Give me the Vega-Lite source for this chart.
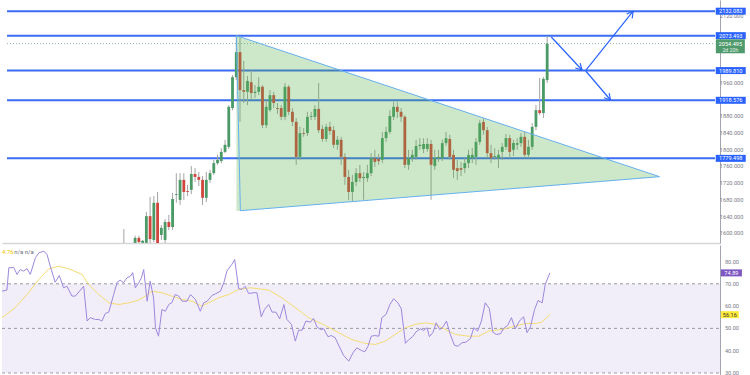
{
"$schema": "https://vega.github.io/schema/vega-lite/v6.json",
"padding": 0,
"background": "white",
"spacing": 2,
"config": {"view": {"stroke": null}, "font": "Roboto",
  "axis": {"grid": false, "ticks": false, "labels": false, "domainColor": "#a3a6af"},
  "axisX": {"domainWidth": 1.5, "domainColor": "#d6d6d9"}},
"datasets": {
 "candles": [
  {"i":30,"o":1560,"h":1610,"l":1548,"c":1572},{"i":31,"o":1555,"h":1574,"l":1546,"c":1565},{"i":32,"o":1565,"h":1572,"l":1548,"c":1558},
  {"i":33,"o":1577,"h":1594,"l":1570,"c":1589},{"i":34,"o":1589,"h":1594,"l":1574,"c":1579},{"i":35,"o":1577,"h":1584,"l":1572,"c":1582},
  {"i":36,"o":1577,"h":1651,"l":1572,"c":1641},{"i":37,"o":1641,"h":1687,"l":1577,"c":1586},{"i":38,"o":1584,"h":1689,"l":1579,"c":1673},
  {"i":39,"o":1673,"h":1699,"l":1565,"c":1572},{"i":40,"o":1596,"h":1620,"l":1584,"c":1613},{"i":41,"o":1584,"h":1634,"l":1570,"c":1627},
  {"i":42,"o":1627,"h":1644,"l":1608,"c":1615},{"i":43,"o":1615,"h":1697,"l":1608,"c":1682},{"i":44,"o":1692,"h":1744,"l":1673,"c":1694},
  {"i":45,"o":1680,"h":1744,"l":1668,"c":1728},{"i":46,"o":1728,"h":1744,"l":1680,"c":1699},{"i":47,"o":1701,"h":1716,"l":1689,"c":1699},
  {"i":48,"o":1704,"h":1761,"l":1694,"c":1742},{"i":49,"o":1742,"h":1756,"l":1723,"c":1735},{"i":50,"o":1735,"h":1747,"l":1713,"c":1728},
  {"i":51,"o":1728,"h":1737,"l":1668,"c":1685},{"i":52,"o":1685,"h":1747,"l":1675,"c":1728},{"i":53,"o":1728,"h":1752,"l":1721,"c":1744},
  {"i":54,"o":1744,"h":1776,"l":1740,"c":1768},{"i":55,"o":1768,"h":1788,"l":1764,"c":1776},{"i":56,"o":1773,"h":1804,"l":1768,"c":1795},
  {"i":57,"o":1795,"h":1824,"l":1792,"c":1812},{"i":58,"o":1807,"h":1907,"l":1802,"c":1903},{"i":59,"o":1900,"h":1979,"l":1895,"c":1974},
  {"i":60,"o":1974,"h":2073.5,"l":1967,"c":2034},{"i":61,"o":2034,"h":2070,"l":1867,"c":1943},{"i":62,"o":1943,"h":2013,"l":1912,"c":1939},
  {"i":63,"o":1939,"h":1977,"l":1907,"c":1965},{"i":64,"o":1962,"h":1991,"l":1919,"c":1936},{"i":65,"o":1936,"h":1955,"l":1924,"c":1939},
  {"i":66,"o":1939,"h":1974,"l":1931,"c":1951},{"i":67,"o":1951,"h":1955,"l":1852,"c":1859},{"i":68,"o":1859,"h":1919,"l":1852,"c":1903},
  {"i":69,"o":1895,"h":1943,"l":1891,"c":1931},{"i":70,"o":1931,"h":1939,"l":1900,"c":1912},{"i":71,"o":1900,"h":1912,"l":1886,"c":1898},
  {"i":72,"o":1900,"h":1907,"l":1871,"c":1879},{"i":73,"o":1879,"h":1960,"l":1871,"c":1951},{"i":74,"o":1951,"h":1955,"l":1883,"c":1891},
  {"i":75,"o":1891,"h":1900,"l":1857,"c":1867},{"i":76,"o":1867,"h":1876,"l":1764,"c":1783},{"i":77,"o":1783,"h":1855,"l":1776,"c":1840},
  {"i":78,"o":1840,"h":1852,"l":1831,"c":1838},{"i":79,"o":1840,"h":1891,"l":1833,"c":1879},{"i":80,"o":1879,"h":1891,"l":1871,"c":1881},
  {"i":81,"o":1879,"h":1907,"l":1871,"c":1898},{"i":82,"o":1898,"h":1960,"l":1840,"c":1847},{"i":83,"o":1850,"h":1859,"l":1819,"c":1826},
  {"i":84,"o":1826,"h":1862,"l":1819,"c":1855},{"i":85,"o":1855,"h":1867,"l":1836,"c":1845},{"i":86,"o":1847,"h":1857,"l":1804,"c":1812},
  {"i":87,"o":1812,"h":1833,"l":1800,"c":1824},{"i":88,"o":1824,"h":1831,"l":1764,"c":1783},{"i":89,"o":1783,"h":1792,"l":1716,"c":1735},
  {"i":90,"o":1735,"h":1752,"l":1680,"c":1699},{"i":91,"o":1699,"h":1740,"l":1677,"c":1723},{"i":92,"o":1723,"h":1756,"l":1713,"c":1744},
  {"i":93,"o":1744,"h":1764,"l":1723,"c":1732},{"i":94,"o":1732,"h":1747,"l":1680,"c":1735},{"i":95,"o":1732,"h":1764,"l":1723,"c":1744},
  {"i":96,"o":1744,"h":1792,"l":1737,"c":1780},{"i":97,"o":1780,"h":1800,"l":1759,"c":1771},{"i":98,"o":1778,"h":1790,"l":1764,"c":1773},
  {"i":99,"o":1776,"h":1843,"l":1768,"c":1828},{"i":100,"o":1828,"h":1855,"l":1819,"c":1843},{"i":101,"o":1843,"h":1895,"l":1838,"c":1881},
  {"i":102,"o":1879,"h":1915,"l":1871,"c":1903},{"i":103,"o":1903,"h":1915,"l":1876,"c":1891},{"i":104,"o":1891,"h":1900,"l":1867,"c":1879},
  {"i":105,"o":1879,"h":1883,"l":1756,"c":1764},{"i":106,"o":1764,"h":1800,"l":1752,"c":1780},{"i":107,"o":1780,"h":1800,"l":1771,"c":1788},
  {"i":108,"o":1783,"h":1824,"l":1776,"c":1809},{"i":109,"o":1809,"h":1828,"l":1800,"c":1812},{"i":110,"o":1802,"h":1828,"l":1792,"c":1814},
  {"i":111,"o":1802,"h":1828,"l":1795,"c":1814},{"i":112,"o":1814,"h":1824,"l":1680,"c":1764},{"i":113,"o":1761,"h":1800,"l":1752,"c":1780},
  {"i":114,"o":1780,"h":1800,"l":1771,"c":1783},{"i":115,"o":1780,"h":1824,"l":1773,"c":1816},{"i":116,"o":1816,"h":1843,"l":1809,"c":1828},
  {"i":117,"o":1826,"h":1836,"l":1776,"c":1783},{"i":118,"o":1788,"h":1800,"l":1732,"c":1752},{"i":119,"o":1756,"h":1776,"l":1728,"c":1749},
  {"i":120,"o":1756,"h":1771,"l":1737,"c":1752},{"i":121,"o":1756,"h":1780,"l":1744,"c":1768},{"i":122,"o":1768,"h":1800,"l":1756,"c":1788},
  {"i":123,"o":1780,"h":1804,"l":1768,"c":1788},{"i":124,"o":1783,"h":1828,"l":1764,"c":1819},{"i":125,"o":1819,"h":1871,"l":1812,"c":1864},
  {"i":126,"o":1867,"h":1874,"l":1836,"c":1847},{"i":127,"o":1847,"h":1855,"l":1780,"c":1792},{"i":128,"o":1792,"h":1812,"l":1768,"c":1780},
  {"i":129,"o":1783,"h":1804,"l":1776,"c":1785},{"i":130,"o":1780,"h":1800,"l":1756,"c":1788},{"i":131,"o":1795,"h":1816,"l":1776,"c":1807},
  {"i":132,"o":1807,"h":1838,"l":1800,"c":1828},{"i":133,"o":1828,"h":1836,"l":1780,"c":1795},{"i":134,"o":1800,"h":1824,"l":1785,"c":1816},
  {"i":135,"o":1812,"h":1828,"l":1800,"c":1816},{"i":136,"o":1816,"h":1840,"l":1807,"c":1831},{"i":137,"o":1831,"h":1843,"l":1780,"c":1788},
  {"i":138,"o":1788,"h":1824,"l":1780,"c":1807},{"i":139,"o":1807,"h":1864,"l":1800,"c":1855},{"i":140,"o":1855,"h":1907,"l":1847,"c":1895},
  {"i":141,"o":1895,"h":1972,"l":1883,"c":1888},{"i":142,"o":1888,"h":1974,"l":1876,"c":1970},{"i":143,"o":1967,"h":2072,"l":1960,"c":2054.495}
 ],
 "levels": [{"p":2132.083},{"p":2073.493},{"p":1989.81},{"p":1918.576},{"p":1779.498}],
 "priceTicks": [{"p":1600},{"p":1640},{"p":1680},{"p":1720},{"p":1760},{"p":1800},{"p":1840},{"p":1880},{"p":1960},{"p":2120}],
 "rsiTicks": [{"v":30},{"v":40},{"v":50},{"v":60},{"v":70},{"v":80}],
 "current": [{"p":2054.495,"t":"2d 20h"}],
 "tri": [{"i":60.05,"top":2073.5,"bot":1653.3},{"i":173,"top":1735.6,"bot":1735.6}],
 "triEdge": [{"k":0,"i":60.05,"p":2073.5},{"k":1,"i":61.1,"p":1654.1},{"k":2,"i":173,"p":1735.6},{"k":3,"i":60.05,"p":2073.5}],
 "arrows": [
  {"a":144.1,"b":2070.3,"a2":152.3,"b2":1991.2},{"a":152.3,"b":1991.2,"a2":151.8,"b2":2007.5},{"a":152.3,"b":1991.2,"a2":150.5,"b2":1996.0},
  {"a":153.3,"b":1990.0,"a2":165.95,"b2":2132.0},{"a":165.95,"b":2132.0,"a2":164.2,"b2":2125.4},{"a":165.95,"b":2132.0,"a2":165.7,"b2":2114.8},
  {"a":153.3,"b":1988.8,"a2":159.9,"b2":1919.3},{"a":159.9,"b":1919.3,"a2":159.55,"b2":1935.9},{"a":159.9,"b":1919.3,"a2":158.2,"b2":1924.8}
 ],
 "rsi": [
  {"i":-1.2,"r":66.7},{"i":0.1,"r":67.2},{"i":0.6,"r":77.2},{"i":1.9,"r":77.3},{"i":2.75,"r":74.2},{"i":3.6,"r":76.4},{"i":4.5,"r":75.7},{"i":5.4,"r":76.8},{"i":6.25,"r":74.2},{"i":7.6,"r":81.7},{"i":8.5,"r":83.9},{"i":9.8,"r":84.6},{"i":10.65,"r":83.2},{"i":11.5,"r":77.9},{"i":12.8,"r":70.7},{"i":13.9,"r":73.7},{"i":15.0,"r":68.2},{"i":15.9,"r":68.9},{"i":17.2,"r":64.5},{"i":18.1,"r":64.5},{"i":20.3,"r":68.9},{"i":21.2,"r":53.3},{"i":22.0,"r":54.8},{"i":23.4,"r":54.0},{"i":24.3,"r":54.0},{"i":25.1,"r":53.3},{"i":26.0,"r":56.7},{"i":26.9,"r":57.3},{"i":28.2,"r":65.2},{"i":29.1,"r":70.7},{"i":29.9,"r":71.6},{"i":30.8,"r":70.5},{"i":31.7,"r":72.7},{"i":32.6,"r":73.4},{"i":33.2,"r":75.0},{"i":33.9,"r":68.2},{"i":34.8,"r":70.5},{"i":35.5,"r":72.7},{"i":36.1,"r":76.4},{"i":37.0,"r":62.2},{"i":37.8,"r":71.2},{"i":38.7,"r":63.7},{"i":39.2,"r":50.3},{"i":40.0,"r":46.5},{"i":40.9,"r":58.5},{"i":41.8,"r":57.7},{"i":42.7,"r":60.7},{"i":43.5,"r":61.5},{"i":44.4,"r":65.2},{"i":45.3,"r":64.5},{"i":46.2,"r":62.2},{"i":47.5,"r":62.2},{"i":48.4,"r":65.2},{"i":49.7,"r":63.0},{"i":51.0,"r":57.7},{"i":51.9,"r":61.5},{"i":52.8,"r":62.2},{"i":54.1,"r":64.8},{"i":55.0,"r":65.5},{"i":56.3,"r":66.7},{"i":57.2,"r":70.5},{"i":58.0,"r":75.7},{"i":59.3,"r":78.7},{"i":60.05,"r":80.9},{"i":61.1,"r":67.8},{"i":62.0,"r":67.5},{"i":62.8,"r":68.9},{"i":63.7,"r":65.7},{"i":65.1,"r":66.0},{"i":65.9,"r":66.0},{"i":67.05,"r":55.2},{"i":67.9,"r":58.5},{"i":69.0,"r":60.7},{"i":69.9,"r":57.3},{"i":70.9,"r":57.3},{"i":71.9,"r":54.3},{"i":73.0,"r":60.7},{"i":73.8,"r":54.0},{"i":75.0,"r":51.8},{"i":76.0,"r":44.3},{"i":76.9,"r":49.2},{"i":77.8,"r":49.2},{"i":78.8,"r":53.3},{"i":80.0,"r":52.8},{"i":80.8,"r":54.5},{"i":81.7,"r":50.7},{"i":82.6,"r":49.5},{"i":83.5,"r":49.8},{"i":84.6,"r":46.3},{"i":85.5,"r":46.8},{"i":86.5,"r":45.8},{"i":87.4,"r":42.5},{"i":88.7,"r":37.9},{"i":90.1,"r":35.3},{"i":91.2,"r":39.1},{"i":92.2,"r":41.3},{"i":93.4,"r":40.1},{"i":94.3,"r":39.5},{"i":95.1,"r":41.8},{"i":96.0,"r":46.5},{"i":96.9,"r":46.8},{"i":98.0,"r":46.5},{"i":98.8,"r":54.8},{"i":99.9,"r":56.3},{"i":100.9,"r":60.7},{"i":101.9,"r":63.3},{"i":103.0,"r":61.5},{"i":103.9,"r":58.8},{"i":105.0,"r":43.3},{"i":105.9,"r":45.0},{"i":106.9,"r":46.3},{"i":107.8,"r":48.5},{"i":108.9,"r":49.8},{"i":109.8,"r":49.1},{"i":110.7,"r":50.3},{"i":111.3,"r":46.3},{"i":112.2,"r":48.1},{"i":113.1,"r":52.5},{"i":114.0,"r":49.5},{"i":114.9,"r":50.7},{"i":115.8,"r":53.3},{"i":116.8,"r":47.3},{"i":117.9,"r":42.4},{"i":118.8,"r":42.0},{"i":119.9,"r":43.6},{"i":120.9,"r":43.8},{"i":122.1,"r":45.4},{"i":123.0,"r":50.3},{"i":124.0,"r":48.8},{"i":125.0,"r":53.3},{"i":126.0,"r":61.5},{"i":127.1,"r":58.8},{"i":128.0,"r":48.3},{"i":128.9,"r":47.3},{"i":130.0,"r":47.6},{"i":131.0,"r":50.3},{"i":131.9,"r":51.3},{"i":132.9,"r":54.8},{"i":133.9,"r":49.8},{"i":135.0,"r":53.3},{"i":136.1,"r":55.2},{"i":137.0,"r":48.1},{"i":137.9,"r":50.7},{"i":139.0,"r":58.5},{"i":139.9,"r":62.5},{"i":141.0,"r":61.5},{"i":141.8,"r":69.7},{"i":143.0,"r":74.89}
 ],
 "ma": [
  {"i":-1.2,"m":54.8},{"i":2.3,"m":59.3},{"i":5.8,"m":66.0},{"i":8.5,"m":71.9},{"i":11.1,"m":76.7},{"i":13.7,"m":77.9},{"i":16.4,"m":76.7},{"i":19.9,"m":74.2},{"i":21.6,"m":69.7},{"i":24.3,"m":65.2},{"i":26.9,"m":61.5},{"i":29.5,"m":60.7},{"i":32.2,"m":61.5},{"i":34.8,"m":62.7},{"i":36.5,"m":64.5},{"i":38.3,"m":66.7},{"i":40.9,"m":66.0},{"i":43.5,"m":64.5},{"i":46.2,"m":63.0},{"i":48.8,"m":62.2},{"i":51.4,"m":60.0},{"i":53.2,"m":61.5},{"i":55.8,"m":63.7},{"i":58.5,"m":65.2},{"i":61.1,"m":67.5},{"i":64.2,"m":68.2},{"i":69.0,"m":67.2},{"i":72.5,"m":63.7},{"i":76.0,"m":59.3},{"i":79.5,"m":54.8},{"i":83.9,"m":51.3},{"i":87.4,"m":48.1},{"i":90.9,"m":45.0},{"i":94.4,"m":43.3},{"i":97.1,"m":42.8},{"i":99.7,"m":44.3},{"i":102.3,"m":47.3},{"i":105.0,"m":50.3},{"i":107.6,"m":51.8},{"i":110.2,"m":52.5},{"i":112.9,"m":51.8},{"i":115.5,"m":49.5},{"i":118.1,"m":47.3},{"i":121.6,"m":46.5},{"i":124.3,"m":46.5},{"i":126.9,"m":48.8},{"i":130.4,"m":49.5},{"i":133.9,"m":51.0},{"i":136.5,"m":52.2},{"i":139.2,"m":52.2},{"i":140.9,"m":52.8},{"i":143.0,"m":56.16}
 ]
},
"vconcat": [
 {
  "width": 718, "height": 243,
  "layer": [
   {"data": {"name": "current"},
    "mark": {"type": "rule", "color": "#8fb8b0", "strokeWidth": 1, "strokeDash": [1, 2]},
    "encoding": {
     "x": {"datum": -1.2, "type": "quantitative", "title": null, "scale": {"domain": [-1.2, 187.8], "nice": false, "zero": false}},
     "x2": {"datum": 187.8},
     "y": {"field": "p", "type": "quantitative", "title": null,
       "scale": {"domain": [1576.7, 2158.9], "nice": false, "zero": false},
       "axis": {"orient": "right", "values": [1600], "title": null, "domain": true, "labels": false, "ticks": false}}}},
   {"data": {"name": "priceTicks"},
    "mark": {"type": "text", "color": "#787b86", "fontSize": 5.6, "align": "left", "baseline": "middle"},
    "encoding": {"x": {"datum": 189.1, "type": "quantitative", "title": null},
      "y": {"field": "p", "type": "quantitative", "title": null},
      "text": {"field": "p", "type": "quantitative", "format": ".3f"}}},
   {"data": {"name": "levels"},
    "mark": {"type": "rule", "color": "#3a6cf4", "strokeWidth": 2},
    "encoding": {"x": {"datum": -1.2, "type": "quantitative", "title": null}, "x2": {"datum": 187.8},
      "y": {"field": "p", "type": "quantitative", "title": null}}},
   {"data": {"name": "candles"},
    "mark": {"type": "rule", "color": "#a3a3a3", "strokeWidth": 1, "clip": true},
    "encoding": {"x": {"field": "i", "type": "quantitative", "title": null},
      "y": {"field": "l", "type": "quantitative", "title": null}, "y2": {"field": "h"}}},
   {"data": {"name": "candles"},
    "mark": {"type": "bar", "width": 2.8, "clip": true},
    "encoding": {"x": {"field": "i", "type": "quantitative", "title": null},
      "y": {"field": "o", "type": "quantitative", "title": null}, "y2": {"field": "c"},
      "color": {"condition": {"test": "datum.c >= datum.o", "value": "#4a9a66"}, "value": "#d0463c"}}},
   {"data": {"name": "tri"},
    "mark": {"type": "area", "color": "#5aaf4c", "opacity": 0.3},
    "encoding": {"x": {"field": "i", "type": "quantitative", "title": null},
      "y": {"field": "top", "type": "quantitative", "title": null}, "y2": {"field": "bot"}}},
   {"data": {"name": "triEdge"},
    "mark": {"type": "line", "color": "#64b0ee", "strokeWidth": 1},
    "encoding": {"x": {"field": "i", "type": "quantitative", "title": null},
      "y": {"field": "p", "type": "quantitative", "title": null}, "order": {"field": "k"}}},
   {"data": {"name": "arrows"},
    "mark": {"type": "rule", "color": "#2962ff", "strokeWidth": 1.2},
    "encoding": {"x": {"field": "a", "type": "quantitative", "title": null}, "x2": {"field": "a2"},
      "y": {"field": "b", "type": "quantitative", "title": null}, "y2": {"field": "b2"}}},
   {"data": {"name": "levels"},
    "mark": {"type": "tick", "orient": "horizontal", "size": 30, "thickness": 7, "color": "#2962ff", "opacity": 1},
    "encoding": {"x": {"datum": 192, "type": "quantitative", "title": null},
      "y": {"field": "p", "type": "quantitative", "title": null}}},
   {"data": {"name": "levels"},
    "mark": {"type": "text", "color": "white", "fontSize": 5.6, "align": "center", "baseline": "middle"},
    "encoding": {"x": {"datum": 192, "type": "quantitative", "title": null},
      "y": {"field": "p", "type": "quantitative", "title": null},
      "text": {"field": "p", "type": "quantitative", "format": ".3f"}}},
   {"data": {"name": "current"},
    "mark": {"type": "tick", "orient": "horizontal", "size": 29, "thickness": 14, "color": "#4f9a6c", "opacity": 1, "yOffset": 2.7},
    "encoding": {"x": {"datum": 191.9, "type": "quantitative", "title": null},
      "y": {"field": "p", "type": "quantitative", "title": null}}},
   {"data": {"name": "current"},
    "mark": {"type": "text", "color": "white", "fontSize": 5.6, "align": "center", "baseline": "middle"},
    "encoding": {"x": {"datum": 191.9, "type": "quantitative", "title": null},
      "y": {"field": "p", "type": "quantitative", "title": null},
      "text": {"field": "p", "type": "quantitative", "format": ".3f"}}},
   {"data": {"name": "current"},
    "mark": {"type": "text", "color": "#e6f2ea", "fontSize": 5.2, "align": "center", "baseline": "middle", "dy": 6.8},
    "encoding": {"x": {"datum": 191.9, "type": "quantitative", "title": null},
      "y": {"field": "p", "type": "quantitative", "title": null},
      "text": {"field": "t"}}}
  ]
 },
 {
  "width": 718, "height": 130,
  "layer": [
   {"data": {"values": [{"a": 70, "b": 30}]},
    "mark": {"type": "rect", "color": "#7e57c2", "opacity": 0.1},
    "encoding": {
     "x": {"datum": -1.2, "type": "quantitative", "axis": null, "scale": {"domain": [-1.2, 187.8], "nice": false, "zero": false}},
     "x2": {"datum": 187.8},
     "y": {"field": "a", "type": "quantitative", "title": null,
       "scale": {"domain": [29.1, 87.4], "nice": false, "zero": false},
       "axis": {"orient": "right", "values": [50], "title": null, "domain": true, "labels": false, "ticks": false}},
     "y2": {"field": "b"}}},
   {"data": {"name": "rsiTicks"},
    "mark": {"type": "text", "color": "#787b86", "fontSize": 5.6, "align": "left", "baseline": "middle"},
    "encoding": {"x": {"datum": 189.1, "type": "quantitative", "axis": null},
      "y": {"field": "v", "type": "quantitative", "title": null},
      "text": {"field": "v", "type": "quantitative", "format": ".2f"}}},
   {"data": {"values": [{"v": 70}, {"v": 50}, {"v": 30}]},
    "mark": {"type": "rule", "color": "#9a9aa3", "strokeWidth": 1, "strokeDash": [3, 3]},
    "encoding": {"x": {"datum": -1.2, "type": "quantitative", "axis": null}, "x2": {"datum": 187.8},
      "y": {"field": "v", "type": "quantitative", "title": null}}},
   {"data": {"name": "ma"},
    "mark": {"type": "line", "color": "#f4dc72", "strokeWidth": 1},
    "encoding": {"x": {"field": "i", "type": "quantitative", "axis": null},
      "y": {"field": "m", "type": "quantitative", "title": null}}},
   {"data": {"name": "rsi"},
    "mark": {"type": "line", "color": "#9d87dd", "strokeWidth": 1},
    "encoding": {"x": {"field": "i", "type": "quantitative", "axis": null},
      "y": {"field": "r", "type": "quantitative", "title": null}}},
   {"data": {"values": [{"v": 74.89}]},
    "mark": {"type": "tick", "orient": "horizontal", "size": 21, "thickness": 7, "color": "#7e57c2", "opacity": 1},
    "encoding": {"x": {"datum": 190.8, "type": "quantitative", "axis": null},
      "y": {"field": "v", "type": "quantitative", "title": null}}},
   {"data": {"values": [{"v": 74.89}]},
    "mark": {"type": "text", "color": "white", "fontSize": 5.6, "align": "center", "baseline": "middle"},
    "encoding": {"x": {"datum": 190.8, "type": "quantitative", "axis": null},
      "y": {"field": "v", "type": "quantitative", "title": null},
      "text": {"field": "v", "type": "quantitative", "format": ".2f"}}},
   {"data": {"values": [{"v": 56.16}]},
    "mark": {"type": "tick", "orient": "horizontal", "size": 18, "thickness": 7, "color": "#ffeb3b", "opacity": 1},
    "encoding": {"x": {"datum": 190.4, "type": "quantitative", "axis": null},
      "y": {"field": "v", "type": "quantitative", "title": null}}},
   {"data": {"values": [{"v": 56.16}]},
    "mark": {"type": "text", "color": "#333333", "fontSize": 5.6, "align": "center", "baseline": "middle"},
    "encoding": {"x": {"datum": 190.4, "type": "quantitative", "axis": null},
      "y": {"field": "v", "type": "quantitative", "title": null},
      "text": {"field": "v", "type": "quantitative", "format": ".2f"}}},
   {"data": {"values": [{"t": "4.76", "v": 84.4}]},
    "mark": {"type": "text", "color": "#f2c200", "fontSize": 6, "align": "left", "baseline": "middle"},
    "encoding": {"x": {"datum": -1.2, "type": "quantitative", "axis": null},
      "y": {"field": "v", "type": "quantitative", "title": null},
      "text": {"field": "t"}}},
   {"data": {"values": [{"t": "n/a n/a", "v": 84.4}]},
    "mark": {"type": "text", "color": "#6a6d78", "fontSize": 6, "align": "left", "baseline": "middle"},
    "encoding": {"x": {"datum": 2.0, "type": "quantitative", "axis": null},
      "y": {"field": "v", "type": "quantitative", "title": null},
      "text": {"field": "t"}}}
  ]
 }
]
}
